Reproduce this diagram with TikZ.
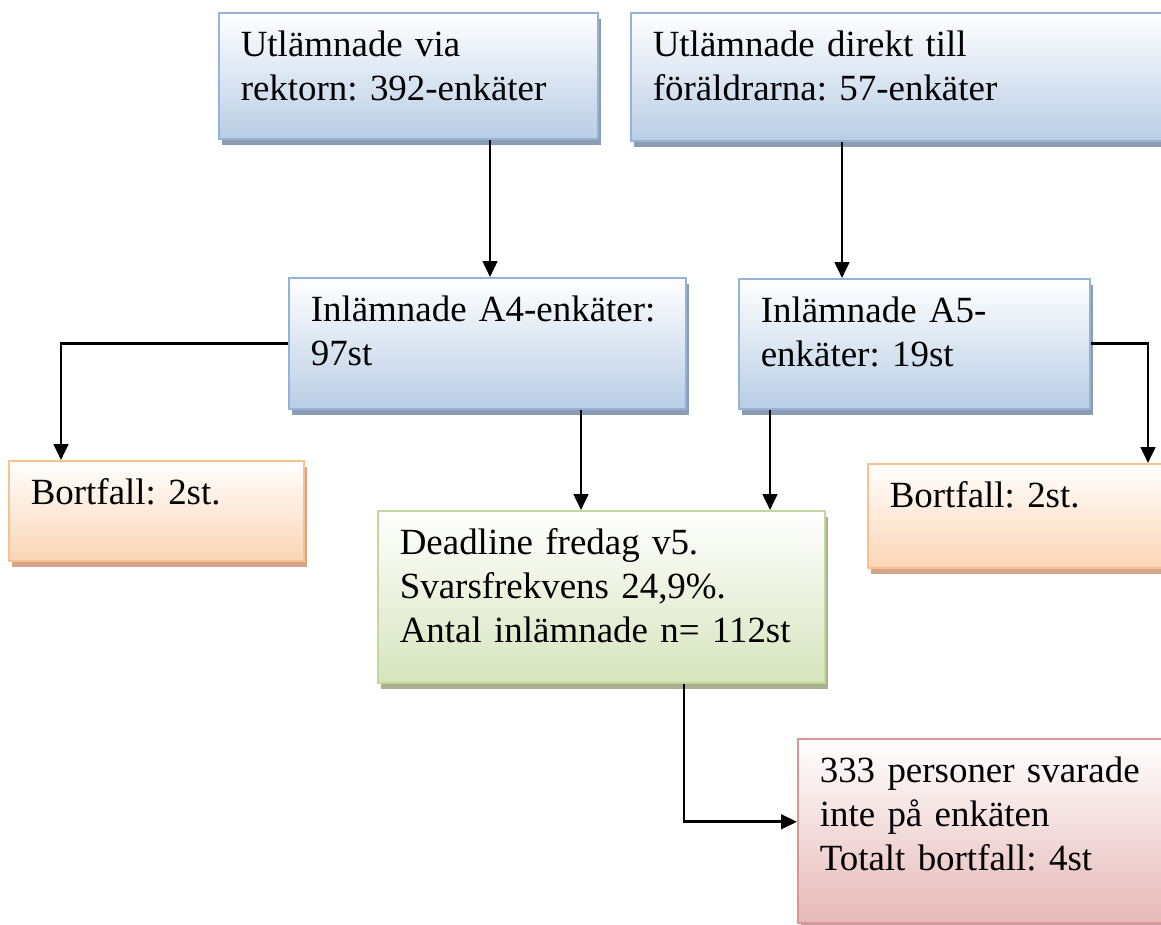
\documentclass[tikz,border=0pt]{standalone}
\usepackage{fontspec}
\setmainfont{Liberation Serif}
\usetikzlibrary{arrows.meta, calc, shadows}
\frenchspacing

\definecolor{bluefill}{RGB}{185,205,229}
\definecolor{blueline}{RGB}{149,179,215}
\definecolor{blueshade}{RGB}{140,156,178}
\definecolor{orangefill}{RGB}{251,213,181}
\definecolor{orangeline}{RGB}{250,192,144}
\definecolor{orangeshade}{RGB}{208,166,134}
\definecolor{greenfill}{RGB}{215,228,189}
\definecolor{greenline}{RGB}{195,214,155}
\definecolor{greenshade}{RGB}{168,176,146}
\definecolor{redfill}{RGB}{230,185,184}
\definecolor{redline}{RGB}{217,150,148}
\definecolor{redshade}{RGB}{190,160,160}

\begin{document}
\begin{tikzpicture}[x=0.75pt, y=-0.75pt, >={Triangle[length=12pt, width=11pt]},
  every node/.style={font=\fontsize{27.7}{33}\selectfont},
  card/.style={draw, line width=1.2pt, anchor=north west, align=left, inner xsep=16.5pt, inner ysep=0pt, text height=33pt},
  bluecard/.style={card, draw=blueline, top color=white, bottom color=bluefill, drop shadow={shadow xshift=2.5pt, shadow yshift=-4.5pt, fill=blueshade, opacity=1}},
  orangecard/.style={card, draw=orangeline, top color=white, bottom color=orangefill, drop shadow={shadow xshift=2.5pt, shadow yshift=-4.5pt, fill=orangeshade, opacity=1}},
  greencard/.style={card, draw=greenline, top color=white, bottom color=greenfill, drop shadow={shadow xshift=2.5pt, shadow yshift=-4.5pt, fill=greenshade, opacity=1}},
  redcard/.style={card, draw=redline, top color=white, bottom color=redfill, drop shadow={shadow xshift=2.5pt, shadow yshift=-4.5pt, fill=redshade, opacity=1}},
  flow/.style={->, line width=2pt}]
  \useasboundingbox (0,0) rectangle (1161,925);
  \clip (0,0) rectangle (1161,925);
  \fill[white] (0,0) rectangle (1161,925);

  % utdelning
  \node[bluecard, text width=251.25pt, text depth=61.5pt] (rektor) at (218,12) {Utlämnade via\\rektorn: 392-enkäter};
  \node[bluecard, text width=394.5pt, text depth=63pt] (foraldrar) at (630,12) {Utlämnade direkt till\\föräldrarna: 57-enkäter};

  % inlämnade
  \node[bluecard, text width=264.75pt, text depth=65.25pt] (ainlA4) at (288,277) {Inlämnade A4-enkäter:\\97st};
  \node[bluecard, text width=230.25pt, text depth=64.5pt] (ainlA5) at (738,278) {Inlämnade A5-\\enkäter: 19st};

  % bortfall och resultat
  \node[orangecard, text width=188.25pt, text depth=42pt] (bortA4) at (8,460) {Bortfall: 2st.};
  \node[orangecard, text width=222pt, text depth=45pt] (bortA5) at (867,463) {Bortfall: 2st.};
  \node[greencard, text width=302.25pt, text depth=96pt] (deadline) at (377,510) {Deadline fredag v5.\\Svarsfrekvens 24,9\%.\\Antal inlämnade n= 112st};
  \node[redcard, text width=267pt, text depth=105pt] (ejsvar) at (797,738) {333 personer svarade\\inte på enkäten\\Totalt bortfall: 4st};

  % pilar
  \coordinate (p1) at ($(ainlA4.north west)+(202,0)$);
  \coordinate (p2) at ($(ainlA5.north west)+(104,0)$);
  \coordinate (p3) at ($(deadline.north west)+(204,0)$);
  \coordinate (p4) at ($(deadline.north west)+(393,0)$);
  \draw[flow] (p1 |- rektor.south) -- (p1);
  \draw[flow] (p2 |- foraldrar.south) -- (p2);
  \draw[flow] (ainlA4.west) -| ($(bortA4.north west)+(53,0)$);
  \draw[flow] (ainlA5.east) -| ($(bortA5.north west)+(281,0)$);
  \draw[flow] (p3 |- ainlA4.south) -- (p3);
  \draw[flow] (p4 |- ainlA5.south) -- (p4);
  \draw[flow] ($(deadline.south west)+(307,0)$) |- ($(ejsvar.west)+(0,-9)$);
\end{tikzpicture}
\end{document}
